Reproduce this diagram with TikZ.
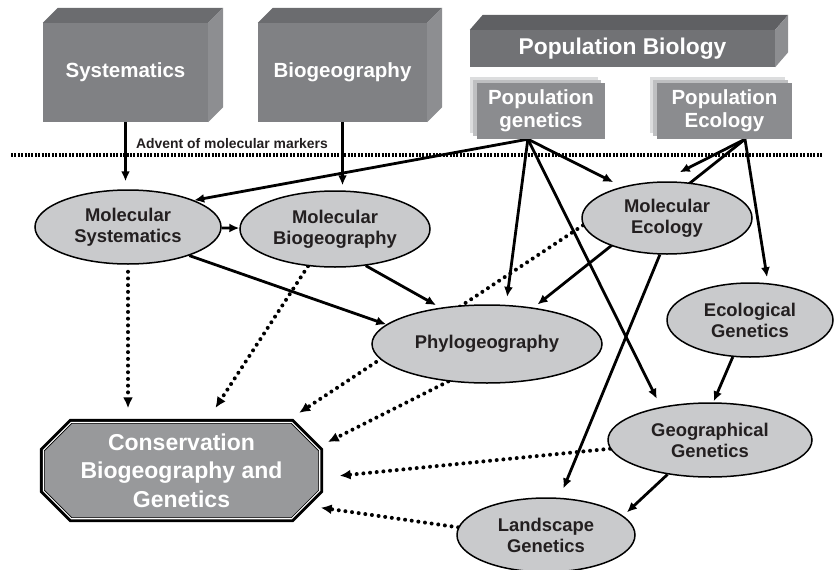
\documentclass[tikz,border=0pt]{standalone}
\usepackage{fontspec}
\setmainfont{Liberation Sans}
\usetikzlibrary{arrows.meta,shapes.geometric,calc,backgrounds}

\definecolor{boxfront}{HTML}{808184}
\definecolor{boxtop}{HTML}{6B6C6F}
\definecolor{boxside}{HTML}{8D8E91}
\definecolor{pbfront}{HTML}{717275}
\definecolor{pbtop}{HTML}{5F6063}
\definecolor{popfront}{HTML}{8B8C8F}
\definecolor{shadeA}{HTML}{DCDDDE}
\definecolor{shadeB}{HTML}{BEBFC1}
\definecolor{ellfill}{HTML}{C9CACC}
\definecolor{consfill}{HTML}{98999B}
\definecolor{ink}{HTML}{231F20}

% octagon round the conservation node
\newcommand{\consoctagon}{($(cons.north west)+(28,0)$) -- ($(cons.north east)+(-28,0)$) -- ($(cons.north east)+(0,28)$) -- ($(cons.south east)+(0,-28)$) -- ($(cons.south east)+(-28,0)$) -- ($(cons.south west)+(28,0)$) -- ($(cons.south west)+(0,-28)$) -- ($(cons.north west)+(0,28)$) -- cycle}

\begin{document}
\begin{tikzpicture}[x=1pt,y=-1pt]
\tikzset{boxface/.style={fill=boxfront, text=white, inner sep=0pt, align=center, font=\fontsize{20.5}{23}\selectfont\bfseries}}%
\tikzset{topic/.style={ellipse, draw=black, line width=1.5pt, fill=ellfill, text=ink, inner sep=0pt, align=center, font=\fontsize{18.4}{21}\selectfont\bfseries}}%
\tikzset{consbox/.style={rectangle, minimum width=276pt, minimum height=96pt, inner sep=0pt, text=white, align=center, font=\fontsize{23}{28.5}\selectfont\bfseries}}%
\tikzset{link/.style={line width=2.8pt, -{Latex[length=10pt,width=9pt]}}}%
\tikzset{dotlink/.style={line width=4pt, line cap=round, dash pattern=on 0pt off 6.7pt, -{Latex[length=11pt,width=10pt]}}}%
\tikzset{rule/.style={line width=3.2pt, dash pattern=on 2pt off 1.4pt}}%
\useasboundingbox (0,0) rectangle (835,570);

% top boxes
\node[boxface, minimum width=165pt, minimum height=99pt] (syst) at (125.5,72.5) {Systematics};
\node[boxface, minimum width=169pt, minimum height=99pt] (bgeo) at (342.5,72.5) {Biogeography};
\node[boxface, fill=pbfront, minimum width=305pt, minimum height=37pt, font=\fontsize{22.8}{26}\selectfont\bfseries] (pbio) at (622.5,48.5) {Population Biology};
\node[boxface, fill=popfront, minimum width=128pt, minimum height=56pt] (pgen) at (541,111) {Population\\genetics};
\node[boxface, fill=popfront, minimum width=135pt, minimum height=56pt] (peco) at (724.5,111) {Population\\Ecology};
\fill[boxtop] (syst.north west) -- ++(15,-15) -- ($(syst.north east)+(15,-15)$) -- (syst.north east) -- cycle;
\fill[boxside] (syst.north east) -- ++(15,-15) -- ($(syst.south east)+(15,-15)$) -- (syst.south east) -- cycle;
\fill[boxtop] (bgeo.north west) -- ++(15,-15) -- ($(bgeo.north east)+(15,-15)$) -- (bgeo.north east) -- cycle;
\fill[boxside] (bgeo.north east) -- ++(15,-15) -- ($(bgeo.south east)+(15,-15)$) -- (bgeo.south east) -- cycle;
\fill[pbtop] (pbio.north west) -- ++(13,-15) -- ($(pbio.north east)+(13,-15)$) -- (pbio.north east) -- cycle;
\fill[boxside] (pbio.north east) -- ++(13,-15) -- ($(pbio.south east)+(13,-15)$) -- (pbio.south east) -- cycle;

% marker line
\coordinate (rulel) at (11,155);
\coordinate (ruler) at (823,155);
\draw[rule] (rulel) -- (ruler);
\node[text=ink, font=\fontsize{13.9}{16}\selectfont\bfseries] (advent) at (232,144) {Advent of molecular markers};

% molecular fields
\node[topic, minimum width=186pt, minimum height=74pt] (msys) at (128,227) {Molecular\\Systematics};
\node[topic, minimum width=190pt, minimum height=76pt] (mbio) at (335,229) {Molecular\\Biogeography};
\node[topic, minimum width=170pt, minimum height=72pt] (meco) at (667,218) {Molecular\\Ecology};
\node[topic, minimum width=230pt, minimum height=78pt] (phyl) at (487,344) {Phylogeography};
\node[topic, minimum width=166pt, minimum height=74pt] (egen) at (750,320) {Ecological\\Genetics};
\node[topic, minimum width=204pt, minimum height=74pt] (ggen) at (710,440) {Geographical\\Genetics};
\node[topic, minimum width=178pt, minimum height=74pt] (lgen) at (546,535) {Landscape\\Genetics};
\node[consbox] (cons) at (181.5,470.5) {Conservation\\Biogeography and\\Genetics};

\begin{scope}[on background layer]
\fill[shadeA] ($(pgen.north west)+(-7,-6)$) rectangle ($(pgen.south east)+(-7,-6)$);
\fill[shadeB] ($(pgen.north west)+(-4,-3)$) rectangle ($(pgen.south east)+(-4,-3)$);
\fill[shadeA] ($(peco.north west)+(-7,-6)$) rectangle ($(peco.south east)+(-7,-6)$);
\fill[shadeB] ($(peco.north west)+(-4,-3)$) rectangle ($(peco.south east)+(-4,-3)$);
\draw[line width=7pt] \consoctagon;
\draw[fill=consfill, line width=0.8pt, double=white, double distance=1.1pt] \consoctagon;
% solid links
\draw[link, shorten >=8pt] (syst.south) -- (syst.south |- msys.north);
\draw[link, shorten >=5pt] (bgeo.south) -- (bgeo.south |- mbio.north);
\draw[link] (msys) -- (mbio);
\draw[link] (pgen.245) -- (msys.22);
\draw[link, shorten >=8pt] (pgen.245) -- (phyl.64);
\draw[link, shorten >=9pt] (pgen.245) -- (ggen.146);
\draw[link, shorten >=10pt] (pgen.245) -- (meco.145);
\draw[link, shorten >=20pt] (peco.306) -- (meco.98);
\draw[link, shorten >=6pt] (peco.306) -- (egen.64);
\draw[link, shorten >=5pt] (peco.306) -- (phyl.38);
\draw[link] (msys.-25) -- (phyl.169);
\draw[link, shorten >=5pt] (mbio.-50) -- (phyl.142);
\draw[link, shorten >=1pt] (egen.245) -- (ggen.85);
\draw[link, shorten >=5pt] (ggen.219) -- (lgen.14);
\draw[link, shorten >=10pt] (meco.259) -- (lgen.70);
% dotted links
\draw[dotlink, shorten <=7pt, shorten >=14pt] (msys.south) -- (msys.south |- cons.north);
\draw[dotlink, shorten >=17pt] (mbio.234) -- (cons.63);
\draw[dotlink, shorten >=17pt] (meco.185) -- (cons.25);
\draw[dotlink, shorten >=9pt] (phyl.224) -- (cons.10);
\draw[dotlink, shorten >=20pt] (ggen.185) -- (cons.-3);
\draw[dotlink, shorten >=1pt] (lgen.175) -- (cons.-15);
\end{scope}
\end{tikzpicture}
\end{document}
